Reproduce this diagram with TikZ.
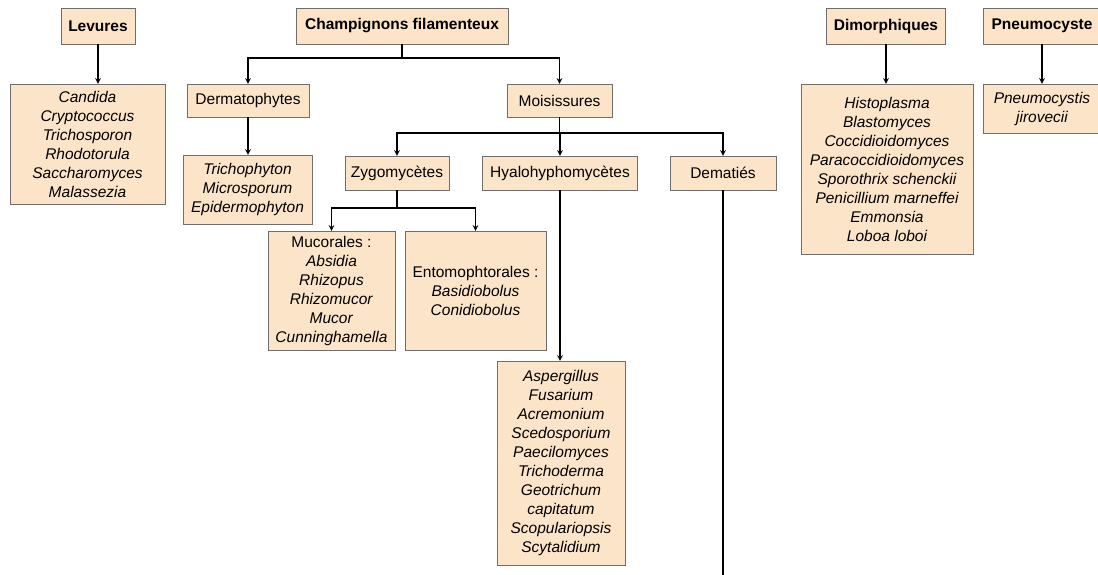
\documentclass[tikz,border=0pt]{standalone}
\usepackage{fontspec}
\setmainfont{Liberation Sans}
\usepackage{tikz}
\usetikzlibrary{positioning}
\usetikzlibrary{shapes.geometric, arrows}
\definecolor{boxfill}{RGB}{252,228,200}
\definecolor{boxline}{RGB}{110,110,110}
\tikzstyle{arrow} = [line width=1.5pt,->,>=stealth]
\tikzstyle{link} = [line width=1.5pt]
\tikzstyle{box} = [draw=boxline,thin,fill=boxfill,align=center,inner sep=2pt,font=\fontsize{15.5}{19}\selectfont]
\tikzstyle{head} = [box,font=\fontsize{15.5}{19}\selectfont\bfseries]
\tikzstyle{genus} = [box,font=\fontsize{15.5}{19}\selectfont\itshape]

\begin{document}
\begin{tikzpicture}[x=1pt,y=-1pt]
				\useasboundingbox (0,0) rectangle (1098,574);
							
				%Nodes
				\node [head,minimum width=74pt,minimum height=36pt] (lev) at (98,26) {Levures};
				\node [head,minimum width=212pt,minimum height=36pt] (champ) at (402,26) {Champignons filamenteux};
				\node [head,minimum width=119pt,minimum height=36pt] (dimo) at (886,26) {Dimorphiques};
				\node [head,minimum width=118pt,minimum height=36pt] (pneu) at (1042,26) {Pneumocyste};
				
				\node [genus,minimum width=155pt,minimum height=120pt] (levlist) at (87.5,144) {Candida\\Cryptococcus\\Trichosporon\\Rhodotorula\\Saccharomyces\\Malassezia};
				\node [box,minimum width=122pt,minimum height=33pt] (derm) at (248,100.5) {Dermatophytes};
				\node [box,minimum width=105pt,minimum height=33pt] (mois) at (559.5,100.5) {Moisissures};
				\node [genus,minimum width=129pt,minimum height=69pt] (dermlist) at (247.5,189.5) {Trichophyton\\Microsporum\\Epidermophyton};
				
				\node [box,minimum width=104pt,minimum height=34pt] (zygo) at (397,173) {Zygomycètes};
				\node [box,minimum width=155pt,minimum height=34pt] (hyal) at (560,173) {Hyalohyphomycètes};
				\node [box,minimum width=106pt,minimum height=34pt] (dema) at (723,173) {Dematiés};
				
				\node [box,minimum width=127pt,minimum height=119pt] (muco) at (331.5,290.5) {Mucorales :\\\textit{Absidia}\\\textit{Rhizopus}\\\textit{Rhizomucor}\\\textit{Mucor}\\\textit{Cunninghamella}};
				\node [box,minimum width=141pt,minimum height=119pt] (ento) at (475.5,290.5) {Entomophtorales :\\\textit{Basidiobolus}\\\textit{Conidiobolus}};
				\node [genus,minimum width=128pt,minimum height=204pt] (hyallist) at (561,463) {Aspergillus\\Fusarium\\Acremonium\\Scedosporium\\Paecilomyces\\Trichoderma\\Geotrichum\\capitatum\\Scopulariopsis\\Scytalidium};
				
				\node [genus,minimum width=172pt,minimum height=170pt] (dimolist) at (887,169) {Histoplasma\\Blastomyces\\Coccidioidomyces\\Paracoccidioidomyces\\Sporothrix schenckii\\Penicillium marneffei\\Emmonsia\\Loboa loboi};
				\node [genus,minimum width=118pt,minimum height=49pt] (pneulist) at (1042,108.5) {Pneumocystis\\jirovecii};
				
				\coordinate (demaend) at (723,580);
				
				%Lines
				\draw [arrow] (lev) -- (lev |- levlist.north);
				\draw [arrow] (champ.south) -- ++(0,14) -| (derm.north);
				\draw [arrow] (champ.south) -- ++(0,14) -| (mois.north);
				\draw [arrow] (derm) -- (derm |- dermlist.north);
				\draw [arrow] (mois.south) -- ++(0,16) -| (zygo.north);
				\draw [arrow] (mois.south) -- ++(0,16) -| (hyal.north);
				\draw [arrow] (mois.south) -- ++(0,16) -| (dema.north);
				\draw [arrow] (zygo.south) -- ++(0,18) -| (muco.north);
				\draw [arrow] (zygo.south) -- ++(0,18) -| (ento.north);
				\draw [arrow] (hyal) -- (hyal |- hyallist.north);
				\draw [link] (dema) -- (demaend);
				\draw [arrow] (dimo) -- (dimo |- dimolist.north);
				\draw [arrow] (pneu) -- (pneulist);
				
			\end{tikzpicture}
\end{document}
